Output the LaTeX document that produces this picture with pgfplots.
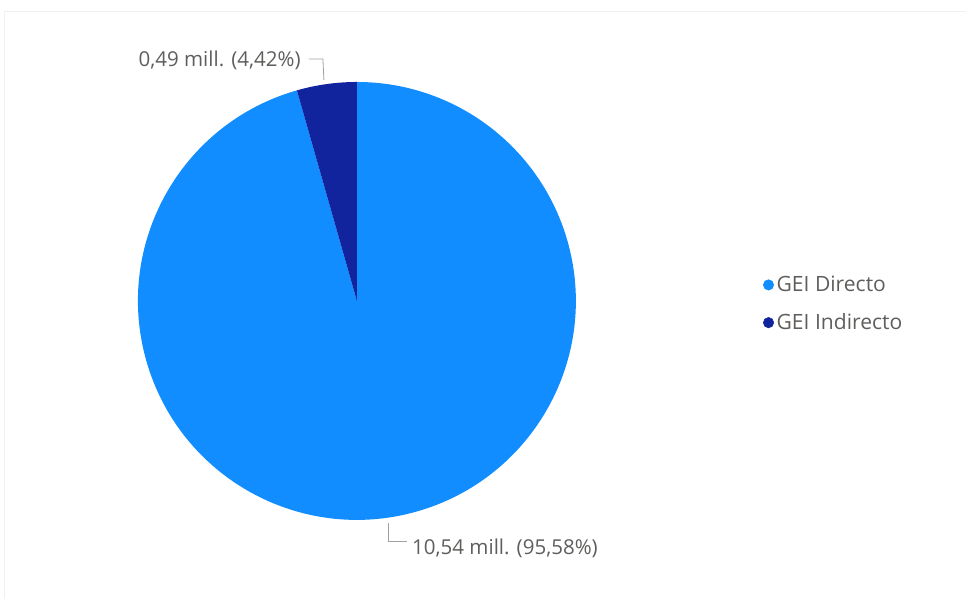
\documentclass[border=0pt]{standalone}
\usepackage{pgfplots}
\pgfplotsset{compat=1.18}
\usepackage{pgfplotstable}
\usepackage{fontspec}
\setmainfont{Open Sans}
\definecolor{directo}{HTML}{118DFF}
\definecolor{indirecto}{HTML}{12239E}
\definecolor{lbl}{HTML}{605E5C}
\definecolor{leader}{HTML}{A0A0A0}
\pgfplotstableread{
serie value pct
Directo 10.54 95.58
Indirecto 0.49 4.42
}\datatable
\pgfplotstablegetelem{0}{pct}\of\datatable \let\pctA\pgfplotsretval
\pgfplotstablegetelem{1}{pct}\of\datatable \let\pctB\pgfplotsretval
\pgfplotstablegetelem{0}{value}\of\datatable \let\valA\pgfplotsretval
\pgfplotstablegetelem{1}{value}\of\datatable \let\valB\pgfplotsretval
\pgfmathsetmacro\angB{90+3.6*\pctB}
\def\R{164.25pt}
\begin{document}
\begin{tikzpicture}
\begin{axis}[
  width=724.5pt, height=449.25pt, scale only axis,
  xmin=0, xmax=966, ymin=0, ymax=599, y dir=reverse,
  hide axis, clip=false,
  legend style={at={(axis cs:763,304)}, anchor=west, draw=none, fill=none,
    font=\fontsize{15.8}{17}\selectfont, text=lbl, inner sep=0pt,
    row sep=11pt, legend cell align=left,
    /tikz/every odd column/.append style={column sep=0pt}},
]
\path (axis cs:0,0) rectangle (axis cs:966,599);
\draw[black!6] (axis cs:4,599) -- (axis cs:4,11) -- (axis cs:966,11);
\fill[directo] (axis cs:357,301) -- ++(\angB:\R) arc[start angle=\angB, end angle=450, radius=\R] -- cycle;
\fill[indirecto] (axis cs:357,301) -- ++(90:\R) arc[start angle=90, end angle=\angB, radius=\R] -- cycle;
\draw[leader, line width=0.6pt] (axis cs:309,59) -- (axis cs:323,59) -- (axis cs:324,80);
\draw[leader, line width=0.6pt] (axis cs:389,523) -- (axis cs:389,542) -- (axis cs:407,542);
\node[anchor=east, text=lbl, font=\fontsize{15.4}{17}\selectfont, inner sep=0pt] at (axis cs:301,60) {0,49 mill. (4,42\%)};
\node[anchor=west, text=lbl, font=\fontsize{15.4}{17}\selectfont, inner sep=0pt] at (axis cs:412,548) {10,54 mill. (95,58\%)};
\addlegendimage{legend image code/.code={\fill[directo] (0.2cm,0cm) circle (3.9pt);}}
\addlegendentry{GEI Directo}
\addlegendimage{legend image code/.code={\fill[indirecto] (0.2cm,0cm) circle (3.9pt);}}
\addlegendentry{GEI Indirecto}
\end{axis}
\end{tikzpicture}
\end{document}
